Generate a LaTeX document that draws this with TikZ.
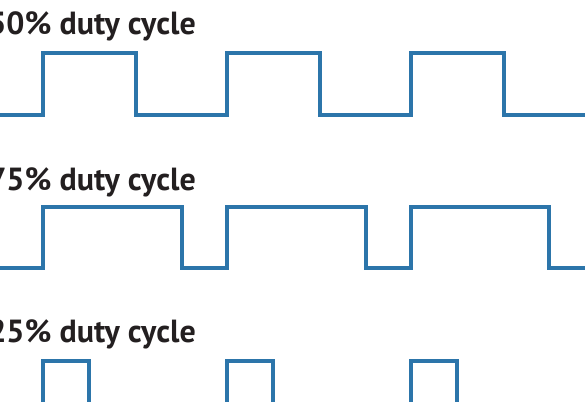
\documentclass[tikz,border=0pt]{standalone}
\usepackage{fontspec}
\setmainfont{PT Sans}
\definecolor{wave}{RGB}{44,117,170}
\definecolor{labelc}{RGB}{35,31,32}
\begin{document}
\begin{tikzpicture}[x=1pt,y=-1pt,
  wavestyle/.style={draw=wave,line width=3.3pt,line join=miter},
  lbl/.style={anchor=base east,inner sep=0pt,text=labelc,font=\fontsize{32}{36}\selectfont\bfseries}]
\useasboundingbox (0,0) rectangle (585,401);
\clip (0,0) rectangle (585,401);
\node[lbl] (l50) at (196,35) {50\% duty cycle};
\node[lbl] (l75) at (196,190) {75\% duty cycle};
\node[lbl] (l25) at (196,342) {25\% duty cycle};
% 50%
\draw[wavestyle] (-5,115) -- (43,115) -- (43,53) -- (136,53) -- (136,115) -- (227,115) -- (227,53) -- (320,53) -- (320,115) -- (411,115) -- (411,53) -- (504,53) -- (504,115) -- (590,115);
% 75%
\draw[wavestyle] (-5,268) -- (43,268) -- (43,207) -- (182,207) -- (182,268) -- (227,268) -- (227,207) -- (366,207) -- (366,268) -- (411,268) -- (411,207) -- (549,207) -- (549,268) -- (590,268);
% 25%
\draw[wavestyle] (-5,422) -- (43,422) -- (43,361) -- (89,361) -- (89,422) -- (227,422) -- (227,361) -- (273,361) -- (273,422) -- (411,422) -- (411,361) -- (457,361) -- (457,422) -- (590,422);
\end{tikzpicture}
\end{document}
